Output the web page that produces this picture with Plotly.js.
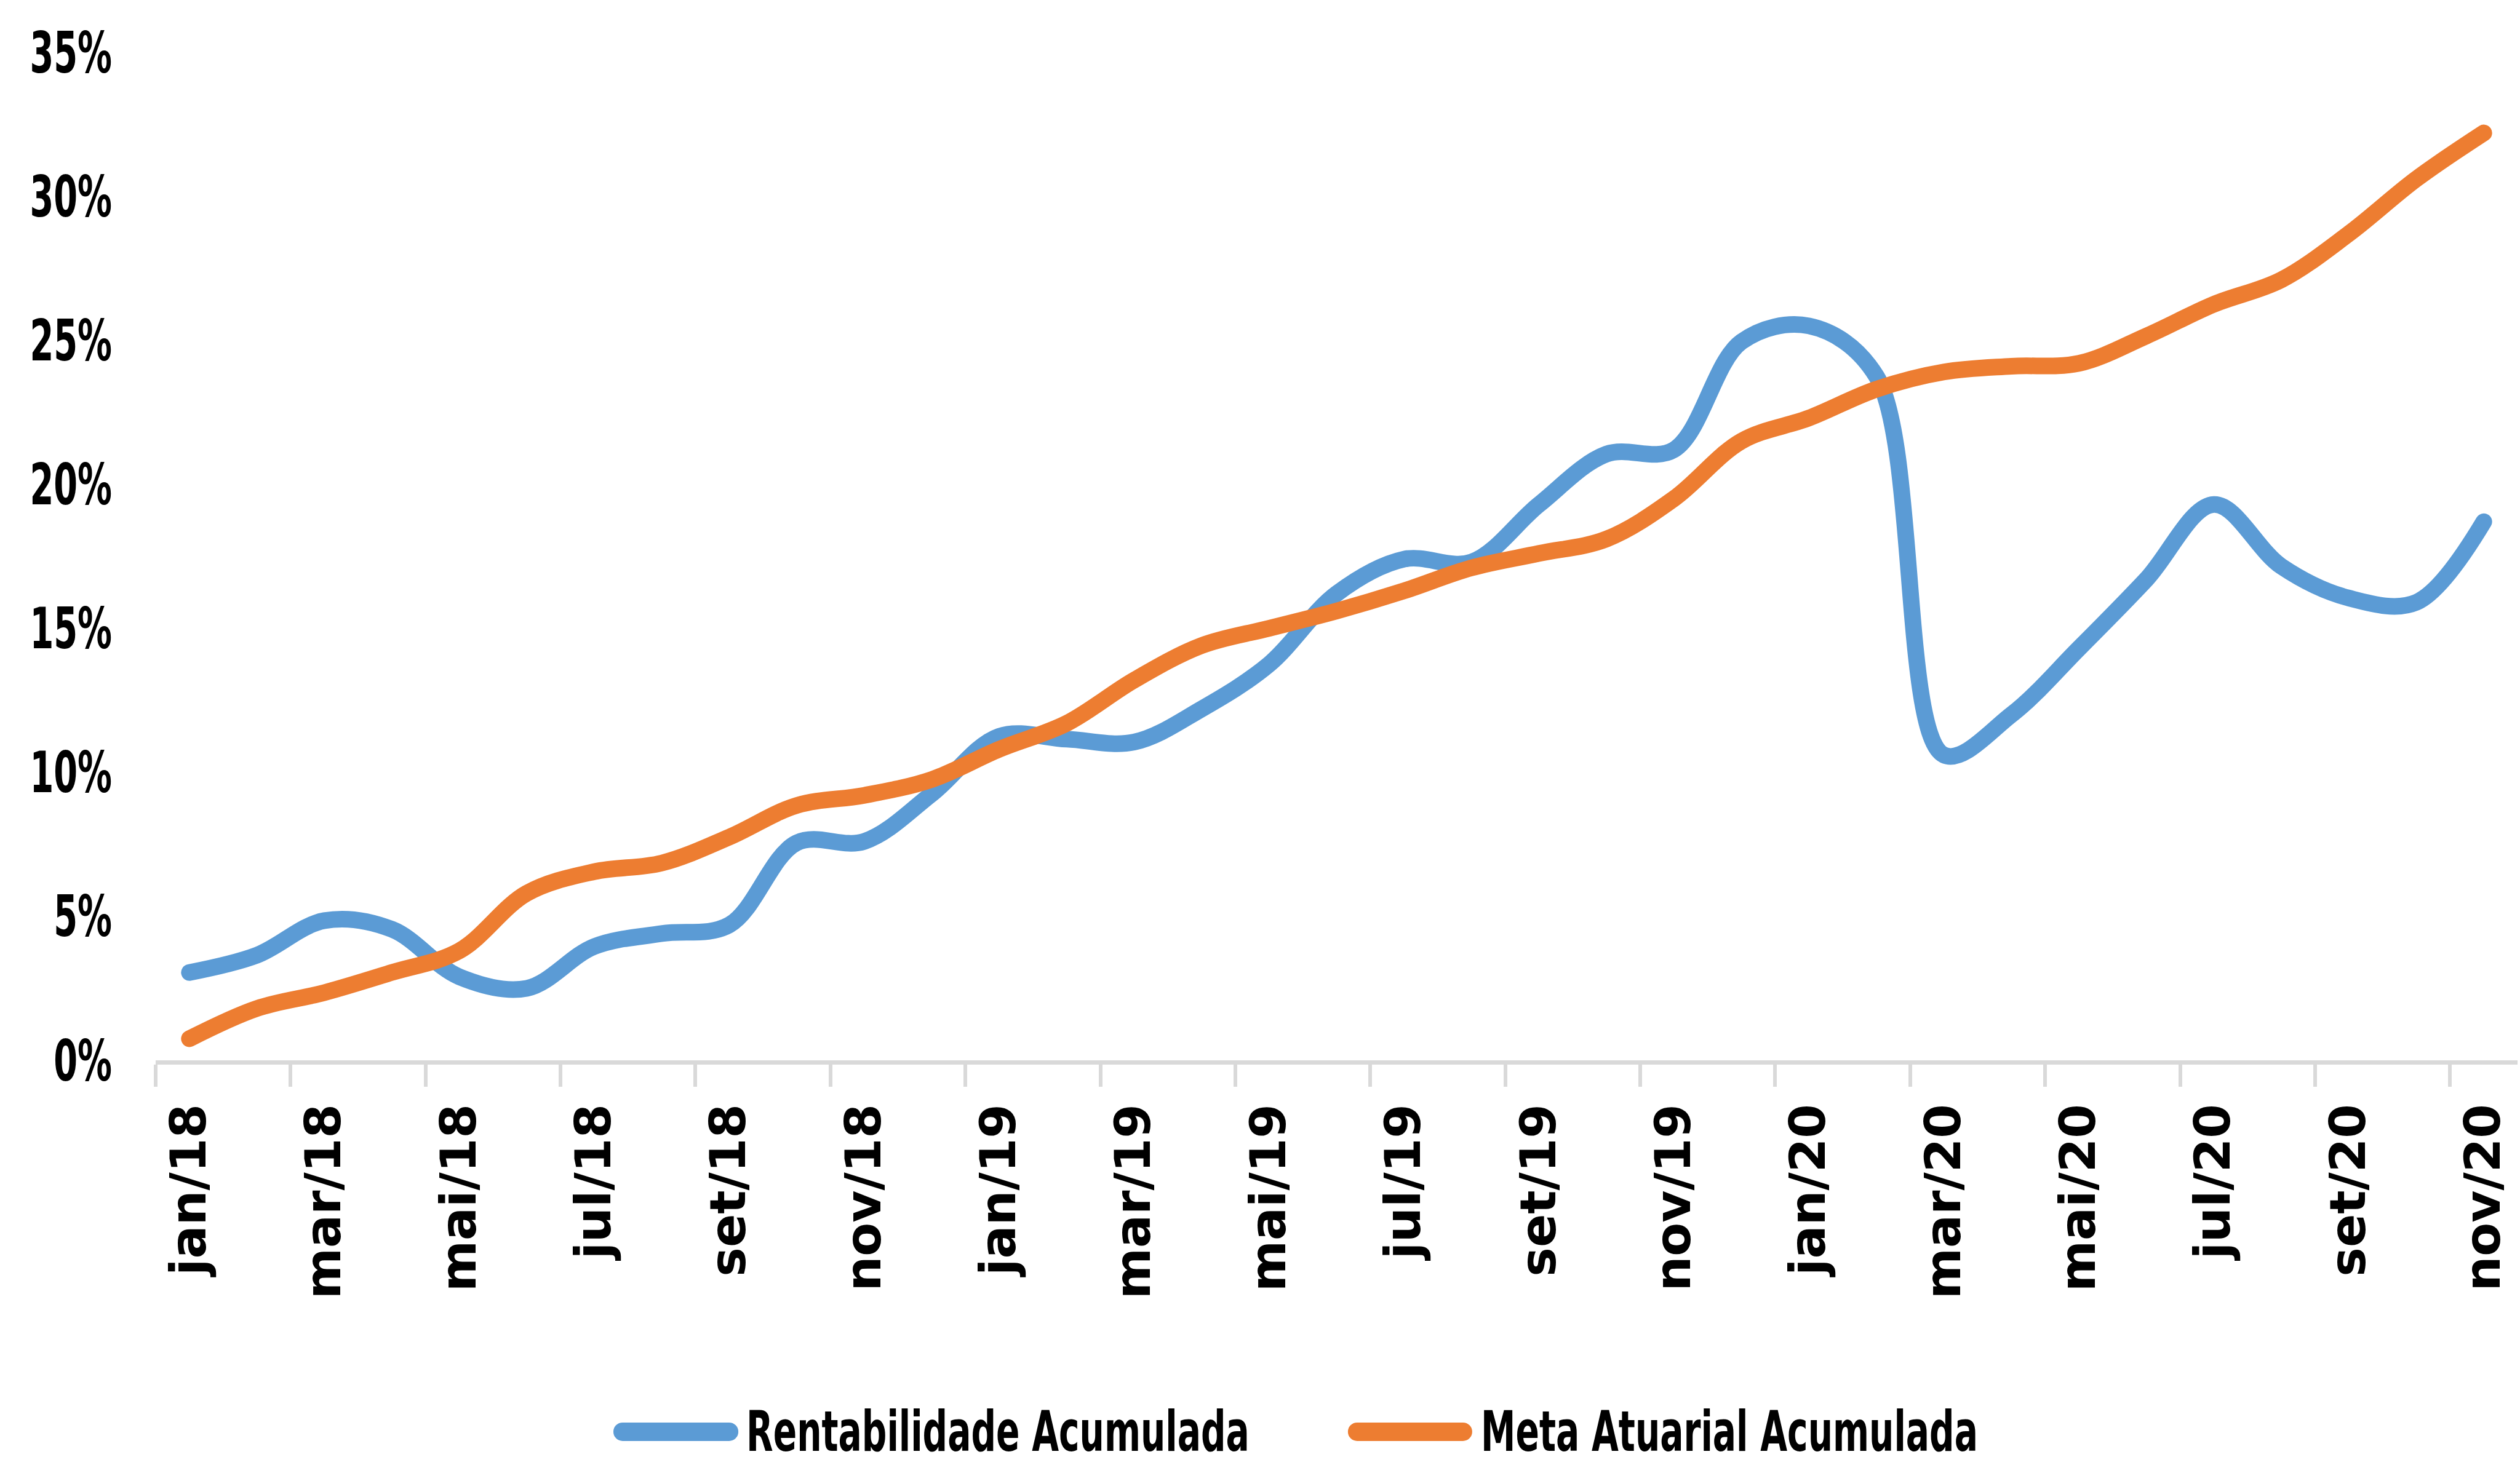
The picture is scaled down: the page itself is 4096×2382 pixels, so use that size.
<!DOCTYPE html>
<html>
<head>
<meta charset="utf-8">
<script src="https://cdn.plot.ly/plotly-3.0.1.min.js"></script>
<style>
  html, body { margin: 0; padding: 0; background: #ffffff; }
  #chart { width: 4096px; height: 2382px; }
</style>
</head>
<body>
<div id="chart"></div>
<script>
// ---- data ----
const months = [
  "jan/18","fev/18","mar/18","abr/18","mai/18","jun/18","jul/18","ago/18","set/18","out/18","nov/18","dez/18",
  "jan/19","fev/19","mar/19","abr/19","mai/19","jun/19","jul/19","ago/19","set/19","out/19","nov/19","dez/19",
  "jan/20","fev/20","mar/20","abr/20","mai/20","jun/20","jul/20","ago/20","set/20","out/20","nov/20"
];
const seriesNames = ["Rentabilidade Acumulada", "Meta Atuarial Acumulada"];
const rentabilidade = [
  3.05, 3.65, 4.85, 4.55, 2.9, 2.5, 3.95, 4.4, 4.7, 7.55, 7.6, 9.25,
  11.25, 11.15, 11.05, 12.2, 13.75, 16.2, 17.4, 17.3, 19.3, 21.05, 21.2, 24.95,
  25.5, 23.75, 10.6, 12.0, 14.3, 16.7, 19.3, 17.15, 16.05, 15.9, 18.7
];
const meta = [
  0.75, 1.8, 2.35, 3.05, 3.8, 5.8, 6.55, 6.85, 7.75, 8.85, 9.2, 9.75,
  10.8, 11.7, 13.2, 14.4, 15.0, 15.6, 16.3, 17.1, 17.6, 18.1, 19.5, 21.5,
  22.3, 23.3, 23.9, 24.1, 24.2, 25.15, 26.25, 27.1, 28.7, 30.6, 32.2
];
const yTicks = [0, 5, 10, 15, 20, 25, 30, 35];

// ---- styling ----
const colors = ["#5B9BD5", "#ED7D31"];
const narrow = "'DejaVu Sans Condensed', 'DejaVu Sans', sans-serif";
const wide = "'DejaVu Sans', 'Liberation Sans', sans-serif";

const traces = [rentabilidade, meta].map((vals, k) => ({
  type: "scatter",
  mode: "lines",
  x: months,
  y: vals,
  name: seriesNames[k],
  line: { color: colors[k], width: 27, shape: "spline", smoothing: 1 },
  showlegend: false,
  hoverinfo: "x+y"
}));

// manual legend (long line keys like the reference)
const legY = -0.3685;
const legendItems = [
  { x0: 0.1977, x1: 0.2428, tx: 0.2495 },
  { x0: 0.5087, x1: 0.5535, tx: 0.5606 }
];
const shapes = legendItems.map((it, k) => ({
  type: "line", xref: "paper", yref: "paper",
  x0: it.x0, x1: it.x1, y0: legY, y1: legY,
  line: { color: colors[k], width: 30 }
}));
const annotations = legendItems.map((it, k) => ({
  xref: "paper", yref: "paper", x: it.tx, y: legY,
  xanchor: "left", yanchor: "middle", showarrow: false,
  text: seriesNames[k],
  font: { family: narrow, size: 90, color: "#000000", weight: 700 }
}));

const layout = {
  width: 4096,
  height: 2382,
  margin: { l: 253, r: 4, t: 85, b: 658 },
  paper_bgcolor: "#ffffff",
  plot_bgcolor: "#ffffff",
  xaxis: {
    type: "category",
    range: [-0.5, months.length - 0.5],
    dtick: 2,
    tickson: "boundaries",
    ticks: "outside",
    ticklen: 36,
    tickwidth: 6,
    tickcolor: "#d9d9d9",
    showline: true,
    linecolor: "#d9d9d9",
    linewidth: 7,
    showgrid: false,
    zeroline: false,
    tickangle: -90,
    ticklabelstandoff: 32,
    tickfont: { family: wide, size: 80, color: "#000000", weight: 700 },
    fixedrange: true
  },
  yaxis: {
    range: [0, 35],
    tickvals: yTicks,
    ticktext: yTicks.map(v => v + "%"),
    ticks: "",
    showline: false,
    showgrid: false,
    zeroline: false,
    ticklabelstandoff: 70,
    tickfont: { family: narrow, size: 93, color: "#000000", weight: 700 },
    fixedrange: true
  },
  shapes: shapes,
  annotations: annotations,
  showlegend: false
};

// The reference's text is tall and narrow: compress it horizontally around its anchor edge.
function squeeze(nodes, s, side) {
  nodes.forEach(t => {
    const b = t.getBBox();
    const ax = side === "right" ? b.x + b.width : b.x;
    const prev = t.getAttribute("transform") || "";
    t.setAttribute("transform",
      prev + " translate(" + ax + ",0) scale(" + s + ",1) translate(" + (-ax) + ",0)");
  });
}

Plotly.newPlot("chart", traces, layout, { displayModeBar: false, staticPlot: true }).then(gd => {
  squeeze(gd.querySelectorAll(".ytick text"), 0.667, "right");
  squeeze(gd.querySelectorAll(".annotation-text"), 0.70, "left");
  // rounded line ends, as in the reference
  gd.querySelectorAll(".scatterlayer path.js-line, .shapelayer path").forEach(p => {
    p.style.strokeLinecap = "round";
    p.style.strokeLinejoin = "round";
  });
});
</script>
</body>
</html>
